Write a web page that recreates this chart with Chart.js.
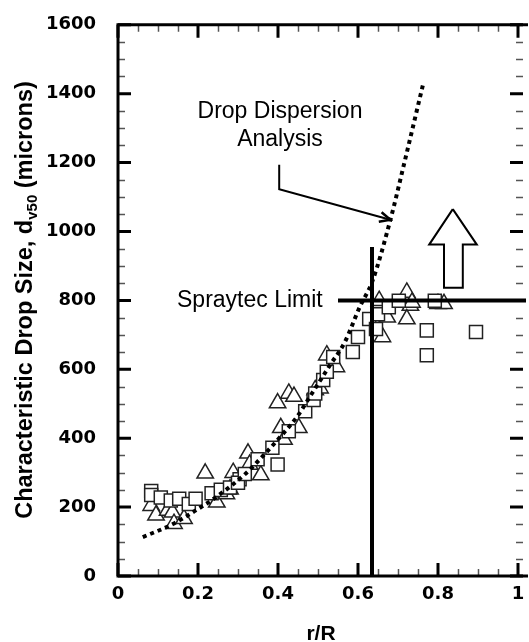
<!DOCTYPE html>
<html>
<head>
<meta charset="utf-8">
<script src="https://cdn.jsdelivr.net/npm/chart.js@4.4.0/dist/chart.umd.min.js"></script>
<style>
html, body { margin: 0; padding: 0; background: #fff; }
canvas { display: block; }
</style>
</head>
<body>
<canvas id="chart" width="529" height="642"></canvas>
<script>
// dotted model curve (Drop Dispersion Analysis)
const curveX = [0.062, 0.136, 0.206, 0.239, 0.317, 0.358, 0.411, 0.448, 0.480, 0.530, 0.567, 0.604, 0.636, 0.681, 0.716, 0.762];
const curveY = [113, 150, 199, 224, 295, 343, 411, 463, 521, 612, 679, 780, 856, 1034, 1200, 1424];

// measured data, squares
const squareX = [0.083, 0.083, 0.107, 0.132, 0.153, 0.177, 0.194, 0.234, 0.257, 0.280, 0.304, 0.300, 0.317, 0.349, 0.386, 0.399, 0.427, 0.468, 0.489, 0.493, 0.513, 0.522, 0.538, 0.587, 0.600, 0.628, 0.645, 0.650, 0.677, 0.702, 0.792, 0.772, 0.772, 0.895];
const squareY = [247, 235, 228, 219, 224, 209, 224, 240, 250, 257, 281, 271, 296, 339, 372, 324, 420, 478, 511, 530, 569, 593, 636, 650, 694, 746, 717, 760, 780, 799, 799, 713, 641, 708];

// measured data, triangles
const triangleX = [0.083, 0.095, 0.124, 0.136, 0.140, 0.165, 0.218, 0.247, 0.271, 0.280, 0.288, 0.325, 0.329, 0.357, 0.399, 0.427, 0.440, 0.407, 0.452, 0.415, 0.493, 0.505, 0.522, 0.546, 0.661, 0.673, 0.653, 0.722, 0.731, 0.722, 0.735, 0.800, 0.815];
const triangleY = [204, 176, 190, 185, 152, 166, 298, 214, 238, 252, 300, 356, 324, 293, 502, 530, 521, 430, 430, 396, 540, 545, 641, 607, 694, 751, 799, 823, 785, 746, 794, 790, 790];

// Spraytec limit and the r/R marker line
const limitX = [0.55, 1.02];
const limitY = [800, 800];
const markX = [0.635, 0.635];
const markY = [0, 955];

// block arrow (outline)
const arrowX = [0.837, 0.897, 0.862, 0.862, 0.815, 0.815, 0.778, 0.837];
const arrowY = [1065, 962, 962, 837, 837, 962, 962, 1065];

// pointer from the label to the curve
const pointerX = [0.403, 0.403, 0.681];
const pointerY = [1194, 1123, 1034];
const pointerHeadX = [0.659, 0.681, 0.652];
const pointerHeadY = [1056, 1034, 1028];

const xMajor = [0, 0.2, 0.4, 0.6, 0.8, 1];
const yMajor = [0, 200, 400, 600, 800, 1000, 1200, 1400, 1600];

function pts(xs, ys) {
    return xs.map((x, i) => ({ x: x, y: ys[i] }));
}

function lineSet(xs, ys, width, extra) {
    return Object.assign({
        data: pts(xs, ys),
        showLine: true,
        pointRadius: 0,
        borderColor: '#000',
        borderWidth: width,
        fill: false,
        tension: 0
    }, extra || {});
}

const frameTicks = {
    id: 'frameTicks',
    afterDraw(chart) {
        const ctx = chart.ctx;
        const a = chart.chartArea;
        const xs = chart.scales.x;
        const ys = chart.scales.y;
        const rightEdge = a.right + 5;
        ctx.save();

        // minor ticks
        ctx.lineWidth = 1.5;
        ctx.strokeStyle = '#555';
        ctx.beginPath();
        for (let v = 0.05; v < 1; v += 0.05) {
            if (Math.abs(v / 0.2 - Math.round(v / 0.2)) < 0.01) continue;
            const px = Math.round(xs.getPixelForValue(v)) + 0.5;
            ctx.moveTo(px, a.bottom); ctx.lineTo(px, a.bottom - 7);
            ctx.moveTo(px, a.top); ctx.lineTo(px, a.top + 7);
        }
        for (let v = 50; v < 1600; v += 50) {
            if (v % 200 === 0) continue;
            const py = Math.round(ys.getPixelForValue(v)) + 0.5;
            ctx.moveTo(a.left, py); ctx.lineTo(a.left + 7, py);
            ctx.moveTo(rightEdge, py); ctx.lineTo(rightEdge - 7, py);
        }
        ctx.stroke();

        // major ticks
        ctx.lineWidth = 3;
        ctx.strokeStyle = '#000';
        ctx.beginPath();
        xMajor.forEach(v => {
            const px = xs.getPixelForValue(v);
            ctx.moveTo(px, a.bottom); ctx.lineTo(px, a.bottom - 13);
            ctx.moveTo(px, a.top); ctx.lineTo(px, a.top + 13);
        });
        yMajor.forEach(v => {
            const py = ys.getPixelForValue(v);
            ctx.moveTo(a.left, py); ctx.lineTo(a.left + 13, py);
            ctx.moveTo(rightEdge, py); ctx.lineTo(rightEdge - 13, py);
        });
        ctx.stroke();

        // frame
        ctx.beginPath();
        ctx.moveTo(a.left, a.top); ctx.lineTo(rightEdge + 5, a.top);
        ctx.moveTo(a.left, a.top - 1.5); ctx.lineTo(a.left, a.bottom + 1.5);
        ctx.moveTo(a.left - 1.5, a.bottom); ctx.lineTo(rightEdge + 5, a.bottom);
        ctx.stroke();

        // annotations
        ctx.fillStyle = '#000';
        ctx.font = '23px "Liberation Sans", Arial, sans-serif';
        ctx.textAlign = 'center';
        ctx.textBaseline = 'alphabetic';
        ctx.fillText('Drop Dispersion', 280, 118);
        ctx.fillText('Analysis', 280, 146);
        ctx.textAlign = 'left';
        ctx.fillText('Spraytec Limit', 177, 307);

        // axis titles
        ctx.font = 'bold 21px "Liberation Sans", Arial, sans-serif';
        ctx.textAlign = 'center';
        ctx.fillText('r/R', 321, 640);

        const mainFont = 'bold 23.5px "Liberation Sans", Arial, sans-serif';
        const subFont = 'bold 15px "Liberation Sans", Arial, sans-serif';
        const partA = 'Characteristic Drop Size, d';
        const partB = 'v50';
        const partC = ' (microns)';
        ctx.font = mainFont;
        const wA = ctx.measureText(partA).width;
        const wC = ctx.measureText(partC).width;
        ctx.font = subFont;
        const wB = ctx.measureText(partB).width;
        const total = wA + wB + wC;
        ctx.translate(32, 300);
        ctx.rotate(-Math.PI / 2);
        ctx.textAlign = 'left';
        let cx = -total / 2;
        ctx.font = mainFont;
        ctx.fillText(partA, cx, 0);
        cx += wA;
        ctx.font = subFont;
        ctx.fillText(partB, cx, 5);
        cx += wB;
        ctx.font = mainFont;
        ctx.fillText(partC, cx, 0);
        ctx.restore();
    }
};

new Chart(document.getElementById('chart'), {
    type: 'scatter',
    data: {
        datasets: [
            lineSet(arrowX, arrowY, 2),
            lineSet(pointerX, pointerY, 2),
            lineSet(pointerHeadX, pointerHeadY, 2.5),
            lineSet(markX, markY, 4),
            lineSet(limitX, limitY, 4, { clip: false }),
            lineSet(curveX, curveY, 4, { borderDash: [4, 4], cubicInterpolationMode: 'monotone' }),
            {
                data: pts(squareX, squareY),
                pointStyle: 'rect',
                pointRadius: 9.2,
                pointBorderWidth: 1.5,
                pointBorderColor: '#222',
                pointBackgroundColor: '#fff'
            },
            {
                data: pts(triangleX, triangleY),
                pointStyle: 'triangle',
                pointRadius: 9.5,
                pointBorderWidth: 1.5,
                pointBorderColor: '#222',
                pointBackgroundColor: '#fff'
            }
        ]
    },
    options: {
        responsive: false,
        animation: false,
        events: [],
        layout: { padding: { top: 20, right: 4, left: 0, bottom: 0 } },
        plugins: { legend: { display: false }, tooltip: { enabled: false } },
        scales: {
            x: {
                type: 'linear',
                min: 0,
                max: 1,
                afterFit(s) { s.height = 66; },
                grid: { display: false },
                border: { display: false },
                ticks: {
                    stepSize: 0.2,
                    padding: 0,
                    color: '#000',
                    font: { family: 'DejaVu Sans', size: 18, weight: 'bold' },
                    callback: v => (v === 0 ? '0' : (Math.abs(v - 1) < 1e-9 ? '1' : v.toFixed(1)))
                }
            },
            y: {
                type: 'linear',
                min: 0,
                max: 1600,
                afterFit(s) { s.width = 118; },
                grid: { display: false },
                border: { display: false },
                ticks: {
                    stepSize: 200,
                    padding: 14,
                    color: '#000',
                    font: { family: 'DejaVu Sans', size: 18, weight: 'bold' },
                    callback: v => String(v)
                }
            }
        }
    },
    plugins: [frameTicks]
});
</script>
</body>
</html>
